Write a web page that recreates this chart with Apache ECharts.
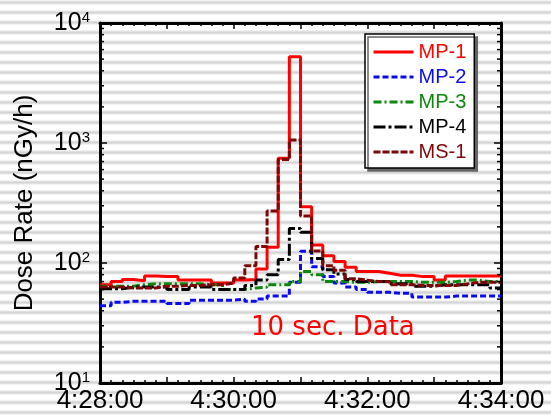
<!DOCTYPE html>
<html><head><meta charset="utf-8">
<script src="https://cdn.jsdelivr.net/npm/echarts@6/dist/echarts.min.js"></script>
<style>
html,body{margin:0;padding:0;width:551px;height:416px;overflow:hidden;
background:repeating-linear-gradient(to bottom,#ffffff 0px,#e6e6e6 1px,#d4d4d4 2.5px,#e6e6e6 4px,#ffffff 5px,#ffffff 10px);}
#c{width:551px;height:416px;}
</style></head><body><div id="c"></div>
<script>
// seconds after 4:28:00 (10 s bins)
const times = [0,10,20,30,40,50,60,70,80,90,100,110,120,130,140,150,160,170,180,190,200,210,220,230,240,250,260,270,280,290,300,310,320,330,340,350,360];
const xTickLabels = ['4:28:00','4:30:00','4:32:00','4:34:00'];
const yTickExponents = ['1','2','3','4'];
const yMinorTicks = [20,30,40,50,60,70,80,90,200,300,400,500,600,700,800,900,2000,3000,4000,5000,6000,7000,8000,9000];

const mp1 = [66,70,73,71,78,77,77,72,72,72,68,68,72,73,89,135,745,5240,294,141,115,103,92,85,85,82,79,79,77,77,72,78,78,78,78,78];
const mp2 = [44,47,48,48,48,48,46,46,49,49,49,49,50,48,50,53,53,69,125,93,77,68,63,60,57,57,56,56,52,52,52,53,53,53,53,53];
const mp3 = [64,64,64,66,67,67,67,67,67,66,66,60,60,62,63,66,66,70,85,80,70,70,69,69,70,70,70,70,69,69,69,70,72,72,70,70];
const mp4 = [61,61,63,63,63,63,60,60,63,63,60,60,60,65,72,80,107,194,180,109,88,81,73,70,70,70,67,67,64,64,66,66,66,66,66,62];
const ms1 = [63,63,62,62,62,64,64,65,65,66,66,68,75,95,137,271,730,1060,246,126,95,87,74,72,70,70,66,66,65,65,65,65,67,69,69,69];

const names = ['MP-1','MP-2','MP-3','MP-4','MS-1'];
const colors = ['#ff0000','#0a0aee','#0d880d','#000000','#7e0606'];
const dashes = ['solid',[6,3],[8,3,2,3],[12,3,3,3],[7,2]];
const values = [mp1,mp2,mp3,mp4,ms1];

function toPairs(vals){
  return times.map((t,i)=>[t, vals[Math.min(i, vals.length-1)]]);
}

const chart = echarts.init(document.getElementById('c'), null, {renderer:'canvas'});
const font = 'Liberation Sans';
const tickStyle = {color:'#000', width:1.5};

function xAxisCommon(pos, showLabel){
  return {
    type:'value', min:0, max:360, interval:60, position:pos, gridIndex:0,
    axisLine:{show:true, onZero:false, lineStyle:{color:'#000', width:3}},
    axisTick:{show:true, inside:true, length:6, lineStyle:tickStyle},
    minorTick:{show:true, splitNumber:6, length:3, lineStyle:tickStyle},
    splitLine:{show:false},
    axisLabel:{show:showLabel, margin:5, color:'#000', fontSize:26, fontFamily:font,
      showMinLabel:true, showMaxLabel:true,
      formatter:function(v){ return (v % 120 === 0) ? xTickLabels[v/120] : ''; }}
  };
}
function yAxisCommon(pos, showLabel){
  const o = {
    type:'log', logBase:10, min:10, max:10000, position:pos, gridIndex:0,
    axisLine:{show:true, onZero:false, lineStyle:{color:'#000', width:3}},
    axisTick:{show:true, inside:true, length:7, lineStyle:tickStyle},
    splitLine:{show:false},
    axisLabel:{show:showLabel, margin:10, color:'#000', showMinLabel:true, showMaxLabel:true,
      formatter:function(v){ const e = Math.round(Math.log10(v)); return '{a|10}{b|' + yTickExponents[e-1] + '}'; },
      rich:{
        a:{fontSize:25, fontFamily:font, color:'#000', lineHeight:26},
        b:{fontSize:15, fontFamily:font, color:'#000', lineHeight:15, verticalAlign:'top'}
      }}
  };
  if (showLabel){
    o.name = 'Dose Rate (nGy/h)';
    o.nameLocation = 'middle';
    o.nameGap = 62;
    o.nameTextStyle = {fontSize:26, fontFamily:font, color:'#000'};
  }
  return o;
}

const series = names.map((n,i)=>({
  name:n, type:'line', step:'end', symbol:'none', showSymbol:false,
  data:toPairs(values[i]), xAxisIndex:0, yAxisIndex:0,
  lineStyle:{color:colors[i], width:3, type:dashes[i]},
  itemStyle:{color:colors[i]},
  emphasis:{disabled:true}, silent:true, animation:false, z:3+i
}));

series.push({
  type:'custom', name:'minorTicks', silent:true, animation:false, z:10,
  xAxisIndex:0, yAxisIndex:0,
  data:yMinorTicks.map(v=>[0, v]),
  renderItem:function(params, api){
    const v = api.value(1);
    const a = api.coord([0, v]);
    const b = api.coord([360, v]);
    return {type:'group', children:[
      {type:'line', shape:{x1:a[0], y1:a[1], x2:a[0]+4, y2:a[1]}, style:{stroke:'#000', lineWidth:1.5}},
      {type:'line', shape:{x1:b[0]-4, y1:b[1], x2:b[0], y2:b[1]}, style:{stroke:'#000', lineWidth:1.5}}
    ]};
  }
});

chart.setOption({
  animation:false,
  backgroundColor:'transparent',
  grid:{left:100, right:50, top:23, bottom:33, containLabel:false},
  xAxis:[xAxisCommon('bottom', true), xAxisCommon('top', false)],
  yAxis:[yAxisCommon('left', true), yAxisCommon('right', false)],
  legend:{
    orient:'vertical', left:365, top:34, padding:[8,8,6,7], itemGap:5,
    itemWidth:40, itemHeight:14,
    backgroundColor:'#ffffff', borderColor:'#000', borderWidth:1.5,
    shadowColor:'#666', shadowOffsetX:3, shadowOffsetY:3, shadowBlur:0,
    selectedMode:false,
    lineStyle:{width:3},
    itemStyle:{opacity:0},
    textStyle:{fontSize:20, fontFamily:font, lineHeight:20},
    data:names.map((n,i)=>({name:n, textStyle:{color:colors[i]}}))
  },
  graphic:[{type:'text', left:251, top:315, silent:true,
    style:{text:'10 sec. Data', fill:'#ff0000', font:'26px "DejaVu Sans"'}}],
  series:series
});
</script>
</body></html>
